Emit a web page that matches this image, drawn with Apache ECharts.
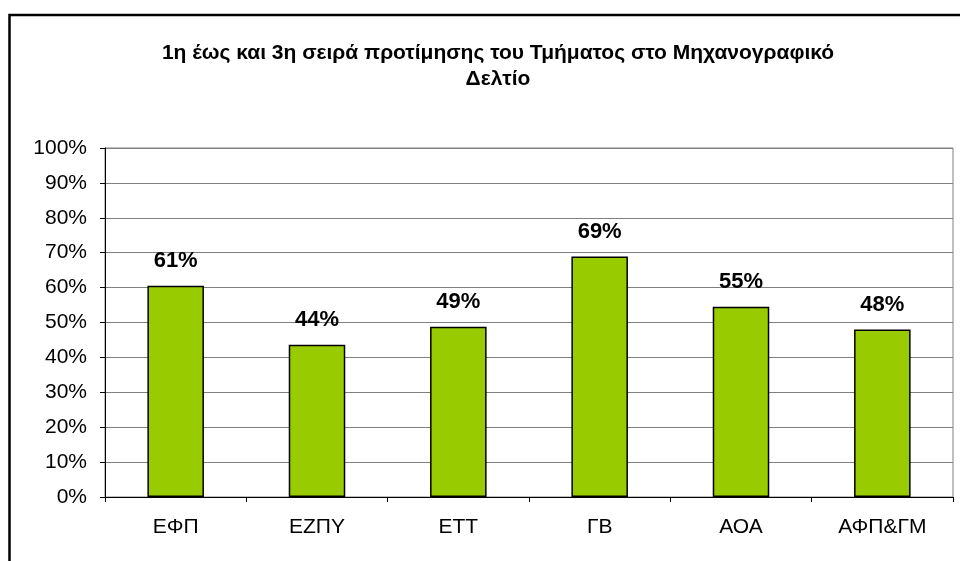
<!DOCTYPE html>
<html>
<head>
<meta charset="utf-8">
<script src="https://cdn.jsdelivr.net/npm/echarts@6/dist/echarts.min.js"></script>
<style>
html,body{margin:0;padding:0;background:#fff;}
#main{width:960px;height:561px;}
</style>
</head>
<body>
<div id="main"></div>
<script>
var titleText = '1η έως και 3η σειρά προτίμησης του Τμήματος στο Μηχανογραφικό\nΔελτίο';
var categories = ['ΕΦΠ', 'ΕΖΠΥ', 'ΕΤΤ', 'ΓΒ', 'ΑΟΑ', 'ΑΦΠ&ΓΜ'];
var values = [60.5, 43.6, 48.8, 68.9, 54.5, 48.0];
var yMin = 0, yMax = 100, yStep = 10;

var myChart = echarts.init(document.getElementById('main'));
var option = {
	backgroundColor: '#fff',
	animation: false,
	title: {
		text: titleText,
		left: 493,
		textAlign: 'center',
		top: 35,
		textStyle: {
			fontFamily: 'Liberation Sans, Arial, sans-serif',
			fontSize: 21,
			fontWeight: 'bold',
			color: '#000',
			lineHeight: 26
		}
	},
	graphic: [{
		type: 'rect',
		shape: { x: 9.5, y: 15, width: 1000, height: 600 },
		style: { fill: 'none', stroke: '#000', lineWidth: 2.5 },
		silent: true
	}],
	grid: {
		left: 105,
		top: 148,
		right: 7,
		bottom: 64,
		show: true,
		borderColor: '#808080',
		borderWidth: 1
	},
	xAxis: {
		type: 'category',
		data: categories,
		axisLine: { lineStyle: { color: '#000', width: 1 } },
		axisTick: { show: true, length: 5, lineStyle: { color: '#000' } },
		axisLabel: {
			margin: 20,
			fontFamily: 'Liberation Sans, Arial, sans-serif',
			fontSize: 21,
			color: '#000'
		}
	},
	yAxis: {
		type: 'value',
		min: yMin,
		max: yMax,
		interval: yStep,
		axisLine: { show: true, lineStyle: { color: '#000', width: 1 } },
		axisTick: { show: true, length: 5, lineStyle: { color: '#000' } },
		splitLine: { show: true, lineStyle: { color: '#808080', width: 1 } },
		axisLabel: {
			margin: 18,
			formatter: '{value}%',
			fontFamily: 'Liberation Sans, Arial, sans-serif',
			fontSize: 21,
			color: '#000'
		}
	},
	series: [{
		type: 'bar',
		data: values,
		barWidth: '40%',
		itemStyle: {
			color: '#99CC00',
			borderColor: '#000',
			borderWidth: 1.5
		},
		label: {
			show: true,
			position: 'top',
			distance: 14,
			formatter: function(p){ return Math.round(p.value) + '%'; },
			fontFamily: 'Liberation Sans, Arial, sans-serif',
			fontSize: 22,
			fontWeight: 'bold',
			color: '#000'
		}
	}]
};
myChart.setOption(option);
</script>
</body>
</html>
